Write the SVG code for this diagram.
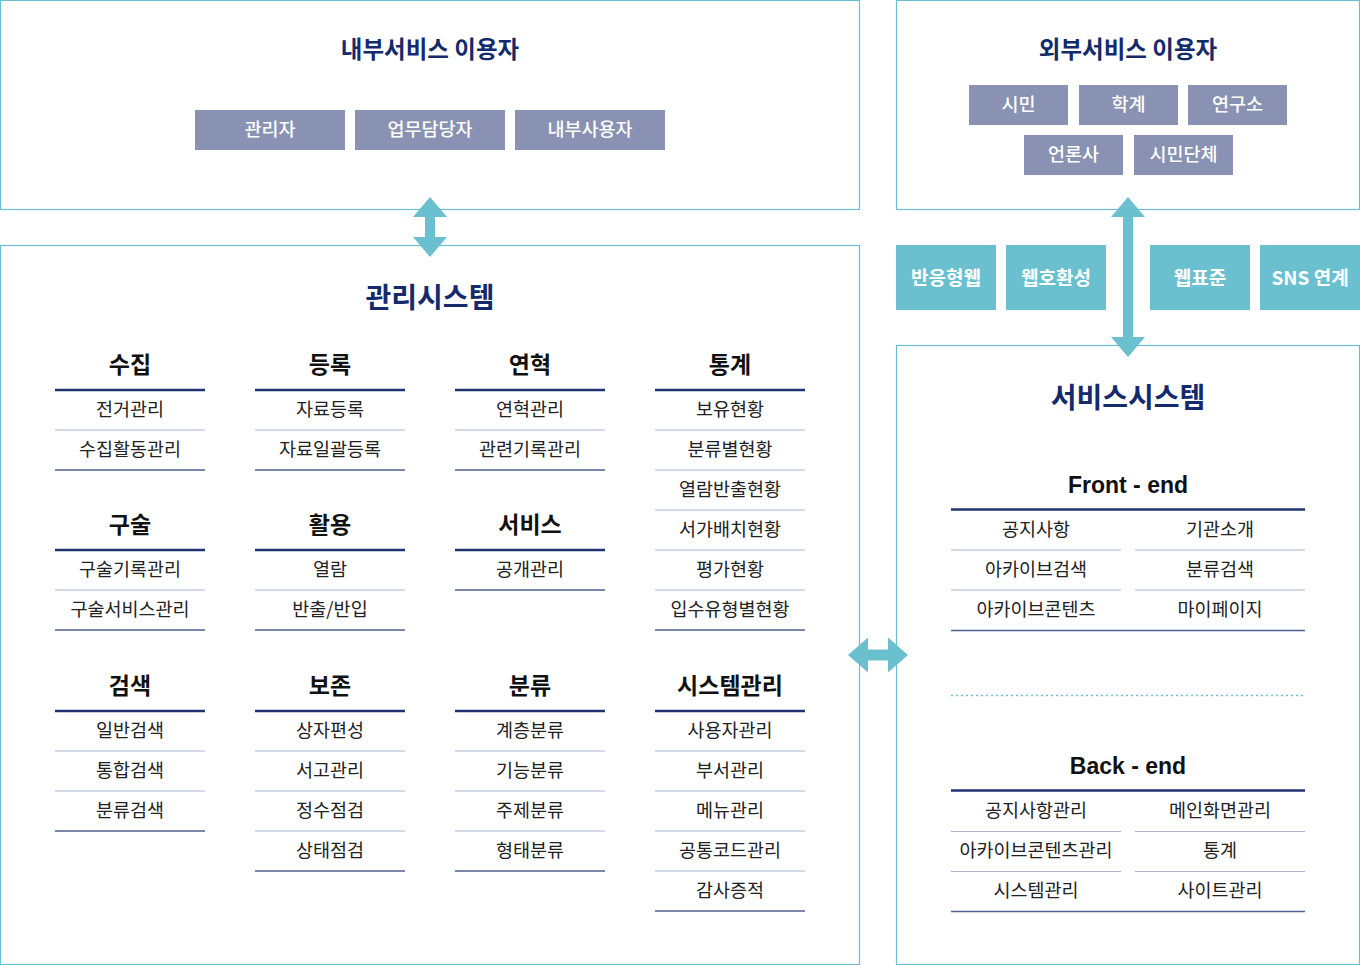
<svg xmlns="http://www.w3.org/2000/svg" width="1360" height="965" viewBox="0 0 1360 965">
<style>
text{font-family:"Noto Sans CJK KR","Noto Sans",sans-serif;text-anchor:middle;dominant-baseline:central}
.frame{fill:#fff;stroke:#6bbfcf;stroke-width:1.2}
.title{font-size:23.5px;font-weight:700;fill:#152a6b}
.big{font-size:28px;font-weight:700;fill:#152a6b}
.btn{fill:#8992b2}
.btxt{font-size:18.5px;font-weight:500;fill:#fff}
.tbtn{fill:#6bc0cf}
.ttxt{font-size:19px;font-weight:700;fill:#fff}
.hd{font-size:23px;font-weight:700;fill:#111}
.lat{font-family:"Liberation Sans",Arial,sans-serif;font-size:23px}
.it{font-size:18.5px;fill:#222}
.hl{stroke:#1f3370;stroke-width:2.5}
.sl{stroke:#a9b3d0;stroke-width:1.2}
.bl{stroke:#4f5f8f;stroke-width:1.5}
.arr{fill:#6bc0cf}
</style>

<g id="internal-users">
<rect class="frame" x="0.5" y="0.5" width="859" height="209"/>
<text class="title" x="430" y="48">내부서비스 이용자</text>
<rect class="btn" x="195" y="110" width="150" height="40"/><text class="btxt" x="270" y="128">관리자</text>
<rect class="btn" x="355" y="110" width="150" height="40"/><text class="btxt" x="430" y="128">업무담당자</text>
<rect class="btn" x="515" y="110" width="150" height="40"/><text class="btxt" x="590" y="128">내부사용자</text>
</g>

<g id="external-users">
<rect class="frame" x="896.5" y="0.5" width="463" height="209"/>
<text class="title" x="1128" y="48">외부서비스 이용자</text>
<rect class="btn" x="969" y="85" width="99" height="40"/><text class="btxt" x="1018.5" y="103">시민</text>
<rect class="btn" x="1079" y="85" width="99" height="40"/><text class="btxt" x="1128.5" y="103">학계</text>
<rect class="btn" x="1188" y="85" width="99" height="40"/><text class="btxt" x="1237.5" y="103">연구소</text>
<rect class="btn" x="1024" y="135" width="99" height="40"/><text class="btxt" x="1073.5" y="153">언론사</text>
<rect class="btn" x="1134" y="135" width="99" height="40"/><text class="btxt" x="1183.5" y="153">시민단체</text>
</g>

<g id="web-features">
<rect class="tbtn" x="896" y="245" width="100" height="65"/><text class="ttxt" x="946" y="276">반응형웹</text>
<rect class="tbtn" x="1006" y="245" width="100" height="65"/><text class="ttxt" x="1056" y="276">웹호환성</text>
<rect class="tbtn" x="1150" y="245" width="100" height="65"/><text class="ttxt" x="1200" y="276">웹표준</text>
<rect class="tbtn" x="1260" y="245" width="100" height="65"/><text class="ttxt" x="1310" y="276">SNS 연계</text>
</g>

<g id="management-system">
<rect class="frame" x="0.5" y="245.5" width="859" height="719"/>
<text class="big" x="430" y="296">관리시스템</text>
<!-- row 1 -->
<text class="hd" x="130" y="363">수집</text>
<line class="hl" x1="55" y1="390" x2="205" y2="390"/>
<text class="it" x="130" y="408">전거관리</text>
<line class="sl" x1="55" y1="430" x2="205" y2="430"/>
<text class="it" x="130" y="448">수집활동관리</text>
<line class="bl" x1="55" y1="470" x2="205" y2="470"/>

<text class="hd" x="330" y="363">등록</text>
<line class="hl" x1="255" y1="390" x2="405" y2="390"/>
<text class="it" x="330" y="408">자료등록</text>
<line class="sl" x1="255" y1="430" x2="405" y2="430"/>
<text class="it" x="330" y="448">자료일괄등록</text>
<line class="bl" x1="255" y1="470" x2="405" y2="470"/>

<text class="hd" x="530" y="363">연혁</text>
<line class="hl" x1="455" y1="390" x2="605" y2="390"/>
<text class="it" x="530" y="408">연혁관리</text>
<line class="sl" x1="455" y1="430" x2="605" y2="430"/>
<text class="it" x="530" y="448">관련기록관리</text>
<line class="bl" x1="455" y1="470" x2="605" y2="470"/>

<text class="hd" x="730" y="363">통계</text>
<line class="hl" x1="655" y1="390" x2="805" y2="390"/>
<text class="it" x="730" y="408">보유현황</text>
<line class="sl" x1="655" y1="430" x2="805" y2="430"/>
<text class="it" x="730" y="448">분류별현황</text>
<line class="sl" x1="655" y1="470" x2="805" y2="470"/>
<text class="it" x="730" y="488">열람반출현황</text>
<line class="sl" x1="655" y1="510" x2="805" y2="510"/>
<text class="it" x="730" y="528">서가배치현황</text>
<line class="sl" x1="655" y1="550" x2="805" y2="550"/>
<text class="it" x="730" y="568">평가현황</text>
<line class="sl" x1="655" y1="590" x2="805" y2="590"/>
<text class="it" x="730" y="608">입수유형별현황</text>
<line class="bl" x1="655" y1="630" x2="805" y2="630"/>

<!-- row 2 -->
<text class="hd" x="130" y="523">구술</text>
<line class="hl" x1="55" y1="550" x2="205" y2="550"/>
<text class="it" x="130" y="568">구술기록관리</text>
<line class="sl" x1="55" y1="590" x2="205" y2="590"/>
<text class="it" x="130" y="608">구술서비스관리</text>
<line class="bl" x1="55" y1="630" x2="205" y2="630"/>

<text class="hd" x="330" y="523">활용</text>
<line class="hl" x1="255" y1="550" x2="405" y2="550"/>
<text class="it" x="330" y="568">열람</text>
<line class="sl" x1="255" y1="590" x2="405" y2="590"/>
<text class="it" x="330" y="608">반출/반입</text>
<line class="bl" x1="255" y1="630" x2="405" y2="630"/>

<text class="hd" x="530" y="523">서비스</text>
<line class="hl" x1="455" y1="550" x2="605" y2="550"/>
<text class="it" x="530" y="568">공개관리</text>
<line class="bl" x1="455" y1="590" x2="605" y2="590"/>

<!-- row 3 -->
<text class="hd" x="130" y="684">검색</text>
<line class="hl" x1="55" y1="711" x2="205" y2="711"/>
<text class="it" x="130" y="729">일반검색</text>
<line class="sl" x1="55" y1="751" x2="205" y2="751"/>
<text class="it" x="130" y="769">통합검색</text>
<line class="sl" x1="55" y1="791" x2="205" y2="791"/>
<text class="it" x="130" y="809">분류검색</text>
<line class="bl" x1="55" y1="831" x2="205" y2="831"/>

<text class="hd" x="330" y="684">보존</text>
<line class="hl" x1="255" y1="711" x2="405" y2="711"/>
<text class="it" x="330" y="729">상자편성</text>
<line class="sl" x1="255" y1="751" x2="405" y2="751"/>
<text class="it" x="330" y="769">서고관리</text>
<line class="sl" x1="255" y1="791" x2="405" y2="791"/>
<text class="it" x="330" y="809">정수점검</text>
<line class="sl" x1="255" y1="831" x2="405" y2="831"/>
<text class="it" x="330" y="849">상태점검</text>
<line class="bl" x1="255" y1="871" x2="405" y2="871"/>

<text class="hd" x="530" y="684">분류</text>
<line class="hl" x1="455" y1="711" x2="605" y2="711"/>
<text class="it" x="530" y="729">계층분류</text>
<line class="sl" x1="455" y1="751" x2="605" y2="751"/>
<text class="it" x="530" y="769">기능분류</text>
<line class="sl" x1="455" y1="791" x2="605" y2="791"/>
<text class="it" x="530" y="809">주제분류</text>
<line class="sl" x1="455" y1="831" x2="605" y2="831"/>
<text class="it" x="530" y="849">형태분류</text>
<line class="bl" x1="455" y1="871" x2="605" y2="871"/>

<text class="hd" x="730" y="684">시스템관리</text>
<line class="hl" x1="655" y1="711" x2="805" y2="711"/>
<text class="it" x="730" y="729">사용자관리</text>
<line class="sl" x1="655" y1="751" x2="805" y2="751"/>
<text class="it" x="730" y="769">부서관리</text>
<line class="sl" x1="655" y1="791" x2="805" y2="791"/>
<text class="it" x="730" y="809">메뉴관리</text>
<line class="sl" x1="655" y1="831" x2="805" y2="831"/>
<text class="it" x="730" y="849">공통코드관리</text>
<line class="sl" x1="655" y1="871" x2="805" y2="871"/>
<text class="it" x="730" y="889">감사증적</text>
<line class="bl" x1="655" y1="911" x2="805" y2="911"/>
</g>

<g id="service-system">
<rect class="frame" x="896.5" y="345.5" width="463" height="619"/>
<text class="big" x="1128" y="396">서비스시스템</text>
<text class="hd lat" x="1128" y="485">Front - end</text>
<line class="hl" x1="951" y1="509.5" x2="1305" y2="509.5"/>
<text class="it" x="1036" y="528">공지사항</text>
<text class="it" x="1220" y="528">기관소개</text>
<line class="sl" x1="951" y1="550" x2="1121" y2="550"/>
<line class="sl" x1="1135" y1="550" x2="1305" y2="550"/>
<text class="it" x="1036" y="568">아카이브검색</text>
<text class="it" x="1220" y="568">분류검색</text>
<line class="sl" x1="951" y1="590" x2="1121" y2="590"/>
<line class="sl" x1="1135" y1="590" x2="1305" y2="590"/>
<text class="it" x="1036" y="608">아카이브콘텐츠</text>
<text class="it" x="1220" y="608">마이페이지</text>
<line class="bl" x1="951" y1="630.5" x2="1305" y2="630.5"/>

<line x1="951" y1="695.5" x2="1305" y2="695.5" stroke="#6bc0cf" stroke-width="1.5" stroke-dasharray="2 3"/>

<text class="hd lat" x="1128" y="766">Back - end</text>
<line class="hl" x1="951" y1="790.5" x2="1305" y2="790.5"/>
<text class="it" x="1036" y="809">공지사항관리</text>
<text class="it" x="1220" y="809">메인화면관리</text>
<line class="sl" x1="951" y1="831.5" x2="1121" y2="831.5"/>
<line class="sl" x1="1135" y1="831.5" x2="1305" y2="831.5"/>
<text class="it" x="1036" y="849">아카이브콘텐츠관리</text>
<text class="it" x="1220" y="849">통계</text>
<line class="sl" x1="951" y1="871.5" x2="1121" y2="871.5"/>
<line class="sl" x1="1135" y1="871.5" x2="1305" y2="871.5"/>
<text class="it" x="1036" y="889">시스템관리</text>
<text class="it" x="1220" y="889">사이트관리</text>
<line class="bl" x1="951" y1="911.5" x2="1305" y2="911.5"/>
</g>

<g id="connectors">
<polygon class="arr" points="430,197 447,217 435,217 435,237 447,237 430,257 413,237 425,237 425,217 413,217"/>
<polygon class="arr" points="1128,197 1145,217 1133,217 1133,337 1145,337 1128,357 1111,337 1123,337 1123,217 1111,217"/>
<polygon class="arr" points="848,655 868,637.5 868,649.5 888,649.5 888,637.5 908,655 888,672.5 888,660.5 868,660.5 868,672.5"/>
</g>
</svg>
